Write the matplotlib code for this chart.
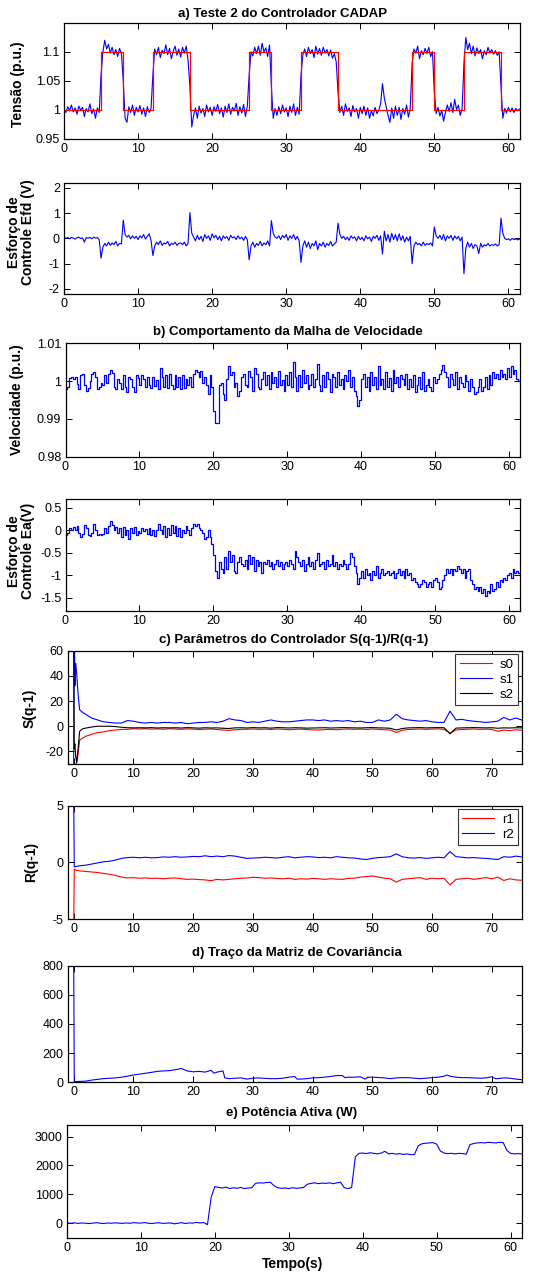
import numpy as np
import matplotlib.pyplot as plt
from matplotlib.ticker import FuncFormatter

plt.rcParams['font.family'] = ['Liberation Sans', 'DejaVu Sans']

W, H = 533, 1274

# a) referencia de tensao (degraus) e tensao medida, amostras a cada 0.25 s
ref_tempo = [0, 5, 8, 12, 17, 25, 28, 32, 37, 47, 50, 54, 59, 61.5]
ref_nivel = [1.0, 1.1, 1.0, 1.1, 1.0, 1.1, 1.0, 1.1, 1.0, 1.1, 1.0, 1.1, 1.0, 1.0]

tensao = [
    # 0 - 4.75
    1.000, 0.995, 1.005, 0.998, 1.008, 0.996, 1.003, 0.992, 1.006, 0.999,
    1.004, 0.988, 1.002, 0.996, 1.010, 0.993, 1.001, 0.985, 1.003, 0.995,
    # 5 - 7.75
    1.060, 1.100, 1.120, 1.105, 1.113, 1.098, 1.108, 1.095, 1.104, 1.092, 1.106, 1.097,
    # 8 - 11.75
    1.050, 0.985, 0.978, 1.005, 0.995, 1.008, 0.990, 1.004, 0.996, 1.007,
    0.992, 1.003, 0.988, 1.005, 0.995, 1.002,
    # 12 - 16.75
    1.060, 1.105, 1.095, 1.108, 1.090, 1.103, 1.097, 1.112, 1.095, 1.106,
    1.088, 1.101, 1.110, 1.094, 1.105, 1.091, 1.108, 1.098, 1.110, 1.085,
    # 17 - 24.75
    1.040, 0.970, 0.990, 1.003, 0.985, 1.006, 0.994, 1.002, 0.988, 1.008,
    0.996, 1.004, 0.990, 1.005, 0.997, 1.009, 0.993, 1.003, 0.987, 1.006,
    0.995, 1.010, 0.992, 1.004, 0.998, 1.011, 0.990, 1.005, 0.994, 1.009,
    0.988, 1.006,
    # 25 - 27.75
    1.060, 1.100, 1.093, 1.108, 1.097, 1.110, 1.094, 1.115, 1.100, 1.107, 1.092, 1.112,
    # 28 - 31.75
    1.040, 0.985, 1.002, 0.990, 1.005, 0.993, 1.008, 0.996, 1.003, 0.988,
    1.006, 0.995, 1.010, 0.990, 1.004, 0.992,
    # 32 - 36.75
    1.060, 1.095, 1.105, 1.092, 1.108, 1.097, 1.104, 1.090, 1.110, 1.096,
    1.106, 1.094, 1.108, 1.098, 1.104, 1.093, 1.103, 1.089, 1.097, 1.083,
    # 37 - 46.75
    1.030, 0.995, 1.006, 0.990, 1.010, 0.997, 1.003, 0.988, 1.007, 0.996,
    1.002, 0.985, 1.004, 0.993, 1.006, 0.990, 1.003, 0.985, 0.998, 0.989,
    1.004, 0.993, 0.999, 1.010, 1.045, 1.020, 1.005, 0.990, 0.978, 1.003,
    0.985, 1.006, 0.990, 1.004, 0.983, 1.002, 0.992, 1.008, 0.987, 1.003,
    # 47 - 49.75
    1.080, 1.105, 1.098, 1.110, 1.088, 1.102, 1.095, 1.106, 1.097, 1.108, 1.092, 1.100,
    # 50 - 53.75
    1.030, 0.993, 1.004, 0.989, 0.998, 0.980, 0.995, 1.008, 0.997, 1.012,
    0.995, 1.018, 1.000, 1.008, 0.990, 1.002,
    # 54 - 58.75
    1.080, 1.125, 1.104, 1.115, 1.097, 1.110, 1.093, 1.107, 1.097, 1.104,
    1.088, 1.102, 1.095, 1.108, 1.098, 1.104, 1.096, 1.102, 1.094, 1.100,
    # 59 - 61.5
    1.040, 0.985, 1.002, 0.994, 1.004, 0.996, 1.003, 0.995, 1.002, 0.998, 1.001,
]

efd = [
    # 0 - 4.75
    0.05, 0.0, 0.03, -0.02, 0.04, 0.01, -0.03, 0.02, 0.05, -0.01,
    0.02, -0.15, 0.03, 0.0, 0.04, -0.02, 0.05, 0.01, 0.03, -0.05,
    # 5 - 7.75
    -0.78, -0.35, -0.2, -0.3, -0.15, -0.28, -0.18, -0.25, -0.12, -0.3, -0.2, -0.22,
    # 8 - 11.75
    0.72, 0.15, 0.05, 0.12, -0.02, 0.1, 0.0, 0.08, -0.05, 0.1,
    0.02, 0.15, -0.03, 0.08, 0.18, -0.08,
    # 12 - 16.75
    -0.68, -0.3, -0.15, -0.25, -0.1, -0.28, -0.18, -0.22, -0.12, -0.3,
    -0.2, -0.24, -0.15, -0.28, -0.2, -0.18, -0.25, -0.15, -0.3, -0.2,
    # 17 - 24.75
    1.02, 0.2, 0.05, -0.1, 0.12, -0.05, 0.08, -0.12, 0.15, 0.0,
    0.1, -0.08, 0.18, 0.02, 0.12, -0.05, 0.08, -0.1, 0.1, 0.0,
    0.07, -0.08, 0.12, 0.02, 0.06, -0.05, 0.1, -0.02, 0.05, -0.08,
    0.08, -0.05,
    # 25 - 27.75
    -0.85, -0.3, -0.15, -0.35, -0.2, -0.28, -0.12, -0.3, -0.18, -0.25, -0.1, -0.3,
    # 28 - 31.75
    0.7, 0.2, 0.05, 0.0, 0.1, -0.05, 0.12, 0.02, 0.15, -0.08,
    0.1, 0.0, 0.15, -0.05, 0.08, -0.1,
    # 32 - 36.75
    -0.95, -0.3, -0.1, -0.35, -0.15, -0.4, -0.2, -0.3, -0.1, -0.45,
    -0.2, -0.3, -0.15, -0.35, -0.2, -0.28, -0.12, -0.3, -0.22, -0.15,
    # 37 - 46.75
    0.6, 0.15, 0.0, 0.08, -0.05, 0.05, -0.08, 0.1, 0.0, 0.06,
    -0.1, 0.08, -0.05, 0.04, -0.1, 0.1, -0.02, 0.05, -0.12, 0.08,
    0.0, 0.12, -0.08, 0.1, -0.62, 0.28, -0.1, 0.15, -0.15, 0.2,
    -0.05, 0.15, -0.1, 0.18, -0.08, 0.1, -0.15, 0.05, -0.1, 0.08,
    # 47 - 49.75
    -1.0, -0.3, -0.15, -0.25, -0.2, -0.3, -0.15, -0.28, -0.2, -0.25, -0.18, -0.3,
    # 50 - 53.75
    0.45, 0.1, 0.0, 0.12, -0.05, 0.15, -0.1, 0.1, 0.0, 0.12,
    -0.08, 0.1, -0.02, 0.08, -0.1, 0.05,
    # 54 - 58.75
    -1.4, -0.4, -0.15, -0.35, -0.2, -0.4, -0.25, -0.3, -0.6, -0.2,
    -0.35, -0.25, -0.3, -0.2, -0.3, -0.25, -0.28, -0.22, -0.3, -0.25,
    # 59 - 61.5
    0.8, 0.2, 0.0, -0.05, -0.02, -0.08, 0.0, -0.05, -0.02, -0.06, -0.03,
]

# b) velocidade e esforco Ea, amostras a cada 0.25 s
velocidade = [
    0.9978, 0.9985, 1.0008, 1.0010, 1.0005, 1.0012, 0.9992, 0.9980, 1.0015, 1.0020,
    0.9990, 0.9975, 0.9982, 1.0000, 1.0018, 1.0025, 1.0010, 0.9978, 0.9985, 0.9995,
    0.9990, 1.0015, 0.9995, 1.0018, 1.0030, 1.0022, 0.9985, 0.9980, 1.0005, 0.9995,
    0.9978, 1.0015, 0.9985, 0.9970, 1.0012, 1.0005, 0.9985, 0.9972, 1.0015, 1.0008,
    0.9990, 1.0015, 1.0005, 0.9985, 1.0012, 0.9990, 0.9982, 1.0010, 0.9988, 1.0002,
    0.9980, 1.0035, 1.0010, 0.9985, 1.0015, 0.9982, 1.0020, 0.9990, 0.9978, 1.0015,
    0.9985, 1.0010, 0.9978, 1.0015, 0.9982, 1.0005, 0.9990, 1.0012, 0.9985, 1.0020,
    1.0030, 1.0025, 1.0010, 1.0028, 0.9995, 1.0012, 0.9990, 0.9965, 1.0015, 0.9985,
    0.9920, 0.9890, 0.9888, 0.9990, 0.9995, 0.9965, 0.9950, 1.0005, 1.0040, 1.0015,
    1.0025, 0.9985, 0.9995, 0.9960, 0.9975, 1.0010, 1.0020, 0.9990, 0.9985, 1.0028,
    1.0010, 0.9975, 1.0035, 1.0020, 0.9985, 0.9978, 1.0005, 1.0025, 0.9990, 1.0015,
    0.9980, 1.0025, 0.9995, 1.0010, 0.9985, 1.0028, 0.9990, 1.0002, 0.9975, 1.0015,
    0.9990, 1.0025, 0.9985, 1.0050, 1.0010, 0.9975, 1.0015, 0.9985, 1.0030, 0.9995,
    1.0015, 0.9978, 0.9990, 1.0020, 0.9985, 1.0005, 1.0045, 0.9990, 0.9975, 1.0015,
    0.9985, 1.0025, 1.0005, 0.9970, 1.0020, 1.0010, 0.9985, 1.0025, 0.9990, 1.0005,
    0.9980, 1.0015, 1.0000, 1.0030, 0.9985, 1.0010, 0.9975, 0.9960, 0.9935, 0.9950,
    1.0005, 1.0020, 0.9985, 1.0010, 0.9975, 1.0025, 0.9990, 1.0010, 0.9980, 1.0040,
    0.9990, 1.0005, 0.9980, 1.0025, 0.9985, 1.0008, 0.9975, 1.0030, 0.9995, 1.0010,
    0.9985, 1.0015, 1.0005, 0.9990, 1.0020, 0.9978, 1.0005, 0.9985, 1.0015, 0.9970,
    0.9990, 1.0010, 0.9980, 1.0025, 0.9975, 0.9990, 1.0005, 0.9985, 0.9975, 1.0010,
    0.9995, 1.0005, 1.0020, 1.0030, 1.0042, 1.0025, 1.0010, 0.9985, 1.0020, 1.0005,
    0.9990, 1.0025, 0.9980, 1.0010, 0.9995, 0.9985, 1.0015, 1.0000, 0.9975, 1.0005,
    0.9985, 0.9965, 0.9970, 0.9985, 1.0005, 0.9975, 0.9985, 1.0012, 0.9980, 1.0015,
    0.9990, 1.0025, 1.0008, 1.0020, 1.0005, 1.0030, 1.0010, 1.0020, 1.0005, 1.0035,
    1.0010, 1.0040, 1.0020, 1.0030, 1.0005, 1.0000, 1.0005,
]

ea = [
    -0.10, -0.05, 0.05, 0.0, 0.08, 0.02, 0.10, -0.05, -0.15, -0.08,
    0.12, 0.05, -0.10, -0.12, -0.05, 0.15, 0.0, -0.10, -0.08, -0.10,
    -0.08, 0.05, -0.05, 0.10, 0.20, 0.12, 0.0, 0.08, -0.05, 0.05,
    -0.15, 0.08, -0.10, 0.02, -0.18, 0.05, -0.05, 0.08, -0.10, -0.02,
    -0.05, 0.05, -0.02, 0.03, -0.08, 0.06, -0.10, 0.0, -0.12, 0.02,
    0.15, 0.0, -0.08, 0.10, -0.15, 0.05, -0.10, 0.12, -0.05, 0.10,
    -0.12, 0.05, -0.15, 0.02, -0.05, 0.10, 0.0, -0.10, 0.05, 0.15,
    0.10, 0.15, 0.05, 0.02, -0.05, -0.20, -0.15, 0.02, -0.15, -0.30,
    -0.55, -0.90, -1.05, -0.70, -0.85, -0.95, -0.60, -0.85, -0.45, -0.70,
    -0.55, -0.90, -0.95, -0.70, -0.60, -0.75, -0.80, -0.65, -0.85, -0.55,
    -0.75, -0.60, -0.90, -0.65, -0.80, -0.70, -0.95, -0.70, -0.75, -0.65,
    -0.80, -0.70, -0.85, -0.75, -0.65, -0.80, -0.70, -0.85, -0.75, -0.70,
    -0.80, -0.65, -0.75, -0.85, -0.45, -0.60, -0.70, -0.80, -0.65, -0.90,
    -0.75, -0.60, -0.80, -0.70, -0.85, -0.65, -0.50, -0.80, -0.75, -0.70,
    -0.85, -0.65, -0.80, -0.75, -0.55, -0.80, -0.70, -0.85, -0.75, -0.80,
    -0.65, -0.75, -0.85, -0.75, -0.50, -0.60, -0.80, -0.95, -1.20, -1.05,
    -0.90, -1.05, -0.85, -1.00, -0.95, -1.10, -0.90, -1.00, -0.80, -1.05,
    -0.95, -0.85, -1.00, -0.95, -0.90, -1.00, -0.95, -0.90, -1.05, -0.95,
    -0.85, -1.00, -0.90, -1.05, -0.85, -1.00, -0.95, -1.10, -1.05, -1.15,
    -1.20, -1.25, -1.20, -1.10, -1.15, -1.25, -1.20, -1.15, -1.25, -1.10,
    -1.05, -1.15, -1.30, -1.25, -1.10, -1.00, -0.85, -0.95, -0.85, -1.00,
    -0.85, -0.90, -0.80, -0.85, -0.95, -0.85, -1.05, -0.90, -0.85, -1.10,
    -1.20, -1.30, -1.25, -1.35, -1.25, -1.40, -1.30, -1.45, -1.35, -1.40,
    -1.20, -1.35, -1.30, -1.15, -1.25, -1.10, -1.15, -1.05, -1.10, -1.00,
    -0.95, -1.05, -0.85, -0.95, -0.90, -0.95, -1.00,
]

# c) parametros S(q-1) e R(q-1)
s_tempo = [0, 0.1, 0.2, 0.35, 0.5, 0.75, 1.0, 1.5] + list(range(2, 76))
s0 = [
    -30, -30, -30, -30, -29, -22, -11, -9.5,
    -8, -6.5, -5, -4.5, -3.5, -3, -2.5, -2.5, -2, -2.2,
    -2, -2.3, -2.1, -2.4, -2, -2.2, -2.5, -2.1, -2.3, -2.6,
    -2.4, -2.2, -2.6, -3, -3.3, -2.8, -2.5, -2.4, -2.2, -2.5,
    -2.3, -2.6, -2.2, -2.4, -2.8, -2.5, -2.3, -2.6, -2.9, -3,
    -2.7, -2.5, -2.8, -2.4, -2.2, -2.5, -2.3, -2.6, -2.2, -2.5,
    -2.8, -3, -5, -3.2, -2.6, -2.4, -2.2, -2.5, -2.3, -2.1,
    -2.5, -5.5, -3, -2.6, -2.4, -2.2, -2.5, -2.3, -2.6, -4,
    -3, -3.5, -2.8, -3.2,
]
s1 = [
    -30, 90, 32, 50, 42, 25, 13, 11,
    9.5, 6.5, 5, 3.5, 3, 2.5, 2.5, 4.5, 4, 3,
    2.5, 3, 2.5, 3, 3, 2.5, 3, 2, 2.5, 3,
    3, 3.5, 3, 4, 6, 5, 4.5, 3, 3.5, 3,
    4, 5, 4, 3.5, 3.5, 4, 4.5, 5, 5, 4.5,
    5, 4, 4.5, 4, 4.5, 3.5, 4, 3, 3, 5,
    4, 5, 9.5, 6, 5, 4.5, 4, 4.5, 3.5, 3,
    3, 12, 5, 5.5, 4.5, 4, 3.5, 3, 3.5, 4,
    7, 5, 6.5, 5,
]
s2 = [
    60, -18, -14, -24, -29, -17, -4, -2,
    -1.5, -0.6, 0, 0, 0, -0.3, -0.8, -1.2, -1.3, -1.2,
    -1.3, -1.1, -1.4, -1.2, -1.3, -1.2, -1.4, -1.1, -1.3, -1.5,
    -1.2, -1.4, -1.3, -1.6, -1.8, -1.3, -1.2, -1.4, -1.1, -1.3,
    -1.2, -1.5, -1.1, -1.2, -1.4, -1.2, -1.3, -1.5, -1.4, -1.3,
    -1.2, -1.4, -1.3, -1.1, -1.2, -1.3, -1.4, -1.2, -1.1, -1.3,
    -1.4, -1.6, -3, -1.8, -1.3, -1.2, -1.1, -1.3, -1.2, -1.1,
    -1.2, -6, -1.5, -1.3, -1.2, -1.1, -1.2, -1.3, -1.2, -1.6,
    -1.3, -1.4, -1.2, -1.3,
]

r_tempo = [0, 0.1, 0.5, 1] + list(range(2, 76))
r1 = [
    -6, -0.6, -0.7, -0.75,
    -0.8, -0.85, -0.9, -0.98, -1.05, -1.15, -1.3, -1.38, -1.35, -1.4,
    -1.38, -1.42, -1.4, -1.45, -1.4, -1.38, -1.45, -1.5, -1.48, -1.52,
    -1.55, -1.62, -1.5, -1.55, -1.5, -1.45, -1.4, -1.38, -1.32, -1.35,
    -1.4, -1.38, -1.42, -1.45, -1.4, -1.5, -1.45, -1.48, -1.42, -1.45,
    -1.5, -1.45, -1.48, -1.5, -1.42, -1.4, -1.3, -1.25, -1.2, -1.3,
    -1.4, -1.45, -1.75, -1.5, -1.45, -1.4, -1.35, -1.5, -1.4, -1.45,
    -1.4, -2.0, -1.5, -1.45, -1.4, -1.5, -1.42, -1.35, -1.45, -1.3,
    -1.6, -1.45, -1.55, -1.58,
]
r2 = [
    6, -0.4, -0.35, -0.3,
    -0.25, -0.15, -0.05, 0.05, 0.1, 0.2, 0.35, 0.42, 0.45, 0.4,
    0.45, 0.4, 0.42, 0.48, 0.45, 0.5, 0.45, 0.48, 0.52, 0.5,
    0.58, 0.5, 0.55, 0.5, 0.6, 0.55, 0.45, 0.35, 0.38, 0.4,
    0.45, 0.42, 0.38, 0.45, 0.5, 0.4, 0.45, 0.5, 0.48, 0.42,
    0.45, 0.4, 0.5, 0.45, 0.4, 0.38, 0.3, 0.25, 0.35, 0.42,
    0.45, 0.5, 0.75, 0.5, 0.4, 0.38, 0.42, 0.35, 0.4, 0.45,
    0.4, 0.95, 0.5, 0.45, 0.4, 0.42, 0.38, 0.35, 0.3, 0.25,
    0.5, 0.45, 0.55, 0.48,
]

# d) traco da matriz de covariancia
tr_tempo = [0, 0.1, 1, 2, 3, 4, 5, 6, 7, 8, 9, 10, 11, 12, 13, 14, 15, 16, 17, 18,
            19, 20, 21, 22, 23, 23.5, 24, 25, 25.3, 26, 27, 28, 29, 30, 31, 32, 33, 34, 35, 36,
            37, 37.4, 38, 39, 40, 41, 42, 43, 44, 45, 45.4, 46, 47, 48, 48.8, 49.2, 50, 51, 52, 53,
            54, 55, 56, 57, 58, 59, 60, 61, 62, 62.5, 63, 64, 65, 66, 67, 68, 69, 70, 70.6, 71,
            72, 73, 74, 75]
tr_valor = [850, 5, 6, 8, 15, 20, 25, 28, 30, 35, 42, 50, 56, 62, 68, 75, 78, 80, 86, 95,
            78, 72, 75, 70, 82, 62, 70, 78, 30, 25, 28, 30, 22, 28, 30, 27, 25, 25, 28, 35,
            40, 22, 22, 25, 30, 32, 35, 40, 46, 46, 32, 35, 35, 38, 22, 35, 35, 33, 30, 25,
            30, 32, 32, 28, 25, 28, 32, 35, 42, 50, 42, 35, 32, 32, 30, 28, 30, 38, 25, 25,
            30, 28, 22, 18]

# e) potencia ativa, amostras a cada 0.5 s
potencia = [
    10, 0, 15, -5, 10, 0, -10, 5, 20, 0,
    -10, 10, 0, 15, 5, -5, 10, 0, 20, 10,
    5, 25, 0, -10, 10, 15, -5, 5, 10, -20,
    0, 20, -10, 10, 5, 30, 10, 25, -50, 900,
    1270, 1240, 1220, 1250, 1200, 1230, 1210, 1240, 1200, 1220,
    1230, 1380, 1400, 1390, 1410, 1420, 1300, 1230, 1210, 1220,
    1200, 1230, 1210, 1220, 1240, 1350, 1380, 1400, 1370, 1390,
    1380, 1400, 1370, 1400, 1420, 1230, 1200, 1240, 2300, 2420,
    2430, 2410, 2440, 2420, 2400, 2430, 2490, 2400, 2420, 2390,
    2410, 2380, 2400, 2370, 2380, 2680, 2750, 2770, 2780, 2790,
    2740, 2500, 2430, 2410, 2420, 2400, 2420, 2410, 2390, 2720,
    2760, 2780, 2790, 2780, 2800, 2790, 2780, 2800, 2790, 2520,
    2420, 2400, 2410, 2400,
]

AZUL = '#0000ff'
VERM = '#ff0000'
fmt = FuncFormatter(lambda v, p: '%g' % round(v, 6))


def make_axes(fig, left, right, top, bottom):
    ax = fig.add_axes([left / W, 1 - bottom / H, (right - left) / W, (bottom - top) / H])
    ax.tick_params(direction='in', top=True, right=True, length=4, width=0.7,
                   labelsize=9, pad=3)
    for s in ax.spines.values():
        s.set_linewidth(0.9)
    ax.yaxis.set_major_formatter(fmt)
    ax.xaxis.set_major_formatter(fmt)
    return ax


def titulo(fig, x, y, texto):
    fig.text(x / W, 1 - y / H, texto, ha='center', va='center', fontsize=9.5, fontweight='bold')


def rotulo_y(fig, x, y, texto):
    fig.text(x / W, 1 - y / H, texto, ha='center', va='center', rotation=90,
             fontsize=10, fontweight='bold', linespacing=1.05)


def legenda(ax):
    leg = ax.legend(loc='upper right', fontsize=9.5, fancybox=False, framealpha=1,
                    edgecolor='#333333', borderaxespad=0.25, handlelength=2.4,
                    labelspacing=0.2, borderpad=0.35, handletextpad=0.6)
    leg.get_frame().set_linewidth(0.8)


fig = plt.figure(figsize=(W / 100, H / 100), dpi=100)

# a) tensao
ax = make_axes(fig, 64, 519.5, 23, 138.5)
t = np.arange(len(tensao)) * 0.25
ax.plot(t, tensao, color=AZUL, lw=0.8)
ax.plot(ref_tempo, ref_nivel, color=VERM, lw=0.9, drawstyle='steps-post')
ax.set_xlim(0, 61.5)
ax.set_ylim(0.95, 1.15)
ax.set_yticks([0.95, 1.0, 1.05, 1.1])
ax.set_xticks(range(0, 61, 10))
titulo(fig, 283, 14, 'a) Teste 2 do Controlador CADAP')
rotulo_y(fig, 18, 84, 'Tensão (p.u.)')

# esforco Efd
ax = make_axes(fig, 64, 519.5, 182.7, 294)
t = np.arange(len(efd)) * 0.25
ax.plot(t, efd, color=AZUL, lw=0.8)
ax.set_xlim(0, 61.5)
ax.set_ylim(-2.2, 2.2)
ax.set_yticks([-2, -1, 0, 1, 2])
ax.set_xticks(range(0, 61, 10))
rotulo_y(fig, 21, 232, 'Esforço de\nControle Efd (V)')

# b) velocidade
ax = make_axes(fig, 65.5, 520, 343.3, 456.7)
t = np.arange(len(velocidade)) * 0.25
ax.plot(t, velocidade, color=AZUL, lw=0.9, drawstyle='steps-post')
ax.set_xlim(0, 61.5)
ax.set_ylim(0.98, 1.01)
ax.set_yticks([0.98, 0.99, 1.0, 1.01])
ax.set_xticks(range(0, 61, 10))
titulo(fig, 288, 331.5, 'b) Comportamento da Malha de Velocidade')
rotulo_y(fig, 17, 400, 'Velocidade (p.u.)')

# esforco Ea
ax = make_axes(fig, 65.5, 520, 499, 611.3)
t = np.arange(len(ea)) * 0.25
ax.plot(t, ea, color=AZUL, lw=0.9, drawstyle='steps-post')
ax.set_xlim(0, 61.5)
ax.set_ylim(-1.8, 0.7)
ax.set_yticks([-1.5, -1, -0.5, 0, 0.5])
ax.set_xticks(range(0, 61, 10))
rotulo_y(fig, 21, 551, 'Esforço de\nControle Ea(V)')

# c) S(q-1)
ax = make_axes(fig, 67.7, 521.7, 650.7, 764)
ax.plot(s_tempo, s0, color=VERM, lw=0.8, label='s0')
ax.plot(s_tempo, s1, color=AZUL, lw=0.8, label='s1')
ax.plot(s_tempo, s2, color='black', lw=0.8, label='s2')
ax.set_xlim(-1, 75)
ax.set_ylim(-30, 60)
ax.set_yticks([-20, 0, 20, 40, 60])
ax.set_xticks(range(0, 71, 10))
legenda(ax)
titulo(fig, 294, 640, 'c) Parâmetros do Controlador S(q-1)/R(q-1)')
rotulo_y(fig, 29.5, 708, 'S(q-1)')

# R(q-1)
ax = make_axes(fig, 67.7, 521.7, 805.7, 919)
ax.plot(r_tempo, r1, color=VERM, lw=0.8, label='r1')
ax.plot(r_tempo, r2, color=AZUL, lw=0.8, label='r2')
ax.set_xlim(-1, 75)
ax.set_ylim(-5, 5)
ax.set_yticks([-5, 0, 5])
ax.set_xticks(range(0, 71, 10))
legenda(ax)
rotulo_y(fig, 31, 862, 'R(q-1)')

# d) traco
ax = make_axes(fig, 67.7, 521.7, 965.7, 1082.3)
ax.plot(tr_tempo, tr_valor, color=AZUL, lw=0.8)
ax.set_xlim(-1, 75)
ax.set_ylim(0, 800)
ax.set_yticks([0, 200, 400, 600, 800])
ax.set_xticks(range(0, 71, 10))
titulo(fig, 297, 953, 'd) Traço da Matriz de Covariância')

# e) potencia
ax = make_axes(fig, 67, 521.7, 1125, 1237.7)
t = np.arange(len(potencia)) * 0.5
ax.plot(t, potencia, color=AZUL, lw=0.8)
ax.set_xlim(0, 61.5)
ax.set_ylim(-500, 3400)
ax.set_yticks([0, 1000, 2000, 3000])
ax.set_xticks(range(0, 61, 10))
titulo(fig, 292, 1113, 'e) Potência Ativa (W)')
fig.text(293 / W, 1 - 1264 / H, 'Tempo(s)', ha='center', va='center', fontsize=10, fontweight='bold')

fig.savefig('out.png', dpi=100)
